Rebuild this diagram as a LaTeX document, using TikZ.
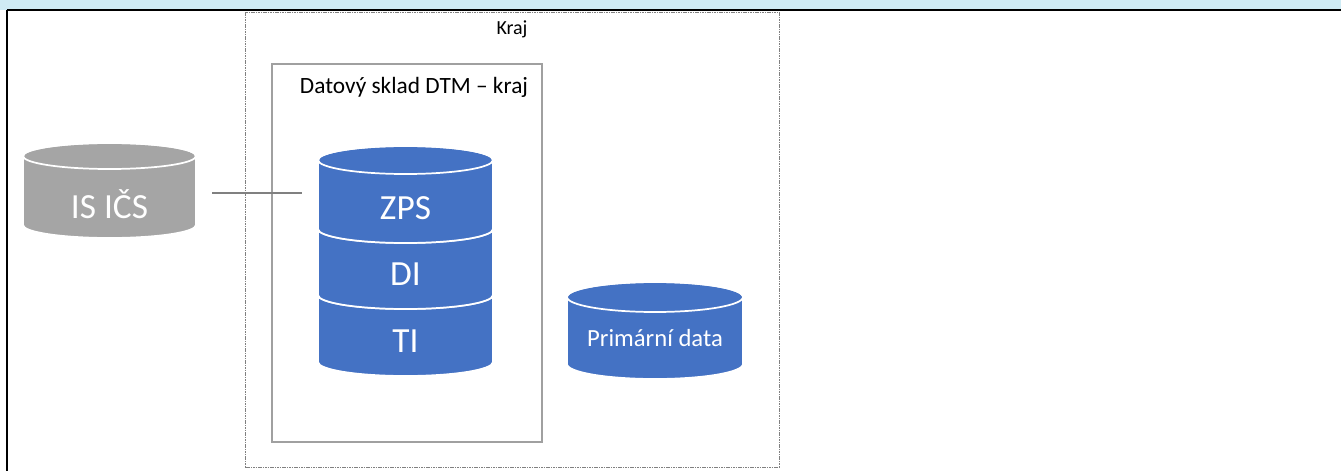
\documentclass[tikz,border=0pt]{standalone}
\usepackage{fontspec}
\setmainfont{Carlito}
\definecolor{hdr}{HTML}{CFEBF4}
\definecolor{dbblue}{HTML}{4472C4}
\definecolor{dbgray}{HTML}{A5A5A5}
\definecolor{boxgray}{HTML}{A0A0A0}
\definecolor{linegray}{HTML}{808080}
\newcommand{\mycyl}[6]{%
  \path[fill=#6, draw=white, line width=1.3pt]
    (#1-#4,-#2) -- (#1-#4,-#3)
    arc[start angle=180,end angle=360,x radius=#4,y radius=#5]
    -- (#1+#4,-#2)
    arc[start angle=0,end angle=180,x radius=#4,y radius=#5] -- cycle;
  \draw[white, line width=1.3pt] (#1,-#2) ellipse[x radius=#4, y radius=#5];
}
\tikzset{
  dbtext/.style={text=white, inner sep=0pt, font=\fontsize{26.5}{31}\selectfont},
  lbl/.style={text=black, inner sep=0pt},
  krajbox/.style={draw=gray, line width=0.7pt, dash pattern=on 1.2pt off 0.6pt},
  skladbox/.style={draw=boxgray, line width=0.9pt},
  conn/.style={draw=linegray, line width=0.8pt}
}
\begin{document}
\begin{tikzpicture}[x=0.75pt,y=0.75pt]
\useasboundingbox (0,0) rectangle (1341,-471);
% header strip
\fill[hdr] (0,0) rectangle (1341,-9.5);
\draw[black, line width=1.6pt] (7,-10) -- (1341,-10);
\draw[black, line width=1.6pt] (7,-10) -- (7,-471);
% boxes
\draw[krajbox] (245,-12) rectangle (779,-467);
\draw[skladbox] (272,-64) rectangle (542,-442);
\node[lbl, font=\fontsize{15}{18}\selectfont] (kraj) at (512,-29) {Kraj};
\node[lbl, font=\fontsize{17.5}{21}\selectfont] (sklad) at (414,-87) {Datový sklad DTM – kraj};
% IS ICS
\mycyl{109.5}{156}{225}{86.5}{13}{dbgray}
\node[dbtext] (isics) at (109.5,-204) {IS IČS};
% stack
\mycyl{405.5}{295}{362}{87.5}{14}{dbblue}
\mycyl{405.5}{229}{295}{87.5}{14}{dbblue}
\mycyl{405.5}{160}{229}{87.5}{14}{dbblue}
\node[dbtext] (zps) at (405.5,-208) {ZPS};
\node[dbtext] (di) at (405.5,-274) {DI};
\node[dbtext] (ti) at (405.5,-341) {TI};
% primarni data
\mycyl{655}{297}{364}{88}{15}{dbblue}
\node[dbtext, font=\fontsize{18.5}{22}\selectfont] (prim) at (655,-338) {Primární data};
% connector
\coordinate (c1) at (212,-193);
\coordinate (c2) at (302,-193);
\draw[conn] (c1) -- (c2);
\end{tikzpicture}
\end{document}
